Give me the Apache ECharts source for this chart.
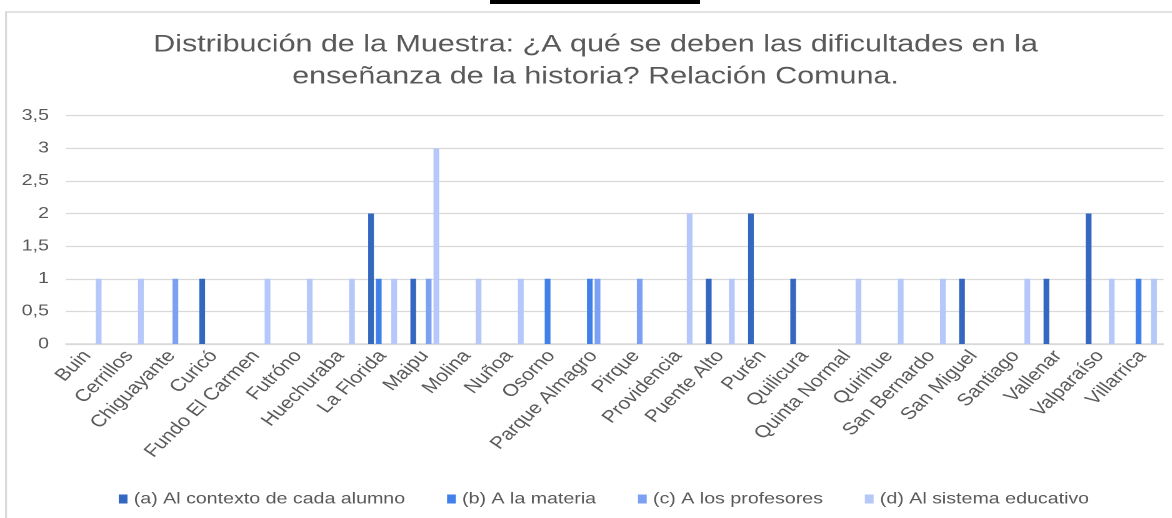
<!DOCTYPE html>
<html>
<head>
<meta charset="utf-8">
<script src="https://cdn.jsdelivr.net/npm/echarts@6/dist/echarts.min.js"></script>
<style>
  html, body { margin: 0; padding: 0; background: #ffffff; overflow: hidden; }
  #wrap { width: 1172px; height: 518px; overflow: hidden; position: relative; }
  #chart { width: 937.6px; height: 518px; transform: scaleX(1.25); transform-origin: 0 0; position: absolute; left: 0; top: 0; }
</style>
</head>
<body>
<div id="wrap"><div id="chart"></div></div>
<script>
const titleText = 'Distribución de la Muestra: ¿A qué se deben las dificultades en la\nenseñanza de la historia? Relación Comuna.';
const categories = ['Buin', 'Cerrillos', 'Chiguayante', 'Curicó', 'Fundo El Carmen', 'Futróno', 'Huechuraba',
  'La Florida', 'Maipu', 'Molina', 'Nuñoa', 'Osorno', 'Parque Almagro', 'Pirque', 'Providencia',
  'Puente Alto', 'Purén', 'Quilicura', 'Quinta Normal', 'Quirihue', 'San Bernardo', 'San Miguel',
  'Santiago', 'Vallenar', 'Valparaíso', 'Villarrica'];
const seriesNames = ['(a) Al contexto de cada alumno', '(b) A la materia', '(c) A los profesores', '(d) Al sistema educativo'];
const valuesA = [0,0,0,1,0,0,0,2,1,0,0,0,0,0,0,1,2,1,0,0,0,1,0,1,2,0];
const valuesB = [0,0,0,0,0,0,0,1,0,0,0,1,1,0,0,0,0,0,0,0,0,0,0,0,0,1];
const valuesC = [0,0,1,0,0,0,0,0,1,0,0,0,1,1,0,0,0,0,0,0,0,0,0,0,0,0];
const valuesD = [1,1,0,0,1,1,1,1,3,1,1,0,0,0,2,1,0,0,1,1,1,0,1,0,1,1];
const yTickLabels = ['0', '0,5', '1', '1,5', '2', '2,5', '3', '3,5'];
const colors = ['#3468C0', '#4180E9', '#7CA1F3', '#B5C8F9'];

const chart = echarts.init(document.getElementById('chart'), null, { renderer: 'canvas', devicePixelRatio: 2 });
const allValues = [valuesA, valuesB, valuesC, valuesD];
const textColor = '#595959';
const fontFamily = '"Liberation Sans", Arial, sans-serif';

chart.setOption({
  animation: false,
  backgroundColor: '#ffffff',
  color: colors,
  title: {
    text: titleText,
    left: 476.4,
    top: 29,
    padding: 0,
    textAlign: 'center',
    textStyle: { color: textColor, fontSize: 24.4, fontWeight: 'normal', fontFamily: fontFamily, lineHeight: 32 }
  },
  graphic: [
    { type: 'rect', z: 0, silent: true, shape: { x: 4.8, y: 12, width: 1100, height: 700 },
      style: { fill: 'none', stroke: '#d9d9d9', lineWidth: 1.6 } },
    { type: 'rect', z: 0, silent: true, shape: { x: 392, y: 0, width: 168, height: 4 },
      style: { fill: '#000000' } }
  ],
  legend: {
    data: seriesNames,
    left: 90,
    top: 486,
    icon: 'rect',
    itemWidth: 7,
    itemHeight: 9,
    itemGap: 33.5,
    textStyle: { color: textColor, fontSize: 15.7, fontFamily: fontFamily }
  },
  grid: { left: 52.8, right: 7.2, top: 115.7, bottom: 174, containLabel: false },
  xAxis: {
    type: 'category',
    data: categories,
    boundaryGap: true,
    axisLine: { show: true, lineStyle: { color: '#d9d9d9', width: 1.5 } },
    axisTick: { show: false },
    axisLabel: { interval: 0, rotate: 50, margin: 9, color: textColor, fontSize: 17, fontFamily: fontFamily }
  },
  yAxis: {
    type: 'value',
    min: 0,
    max: 3.5,
    interval: 0.5,
    axisLine: { show: false },
    axisTick: { show: false },
    splitLine: { show: true, lineStyle: { color: '#d9d9d9', width: 1.3 } },
    axisLabel: {
      margin: 13.6,
      color: textColor,
      fontSize: 15.7,
      fontFamily: fontFamily,
      formatter: function (v) { return yTickLabels[Math.round(v / 0.5)]; }
    }
  },
  series: seriesNames.map(function (name, i) {
    return {
      name: name,
      type: 'bar',
      data: allValues[i],
      barWidth: 4.6,
      barGap: '34%',
      itemStyle: { color: colors[i] }
    };
  })
});
</script>
</body>
</html>
